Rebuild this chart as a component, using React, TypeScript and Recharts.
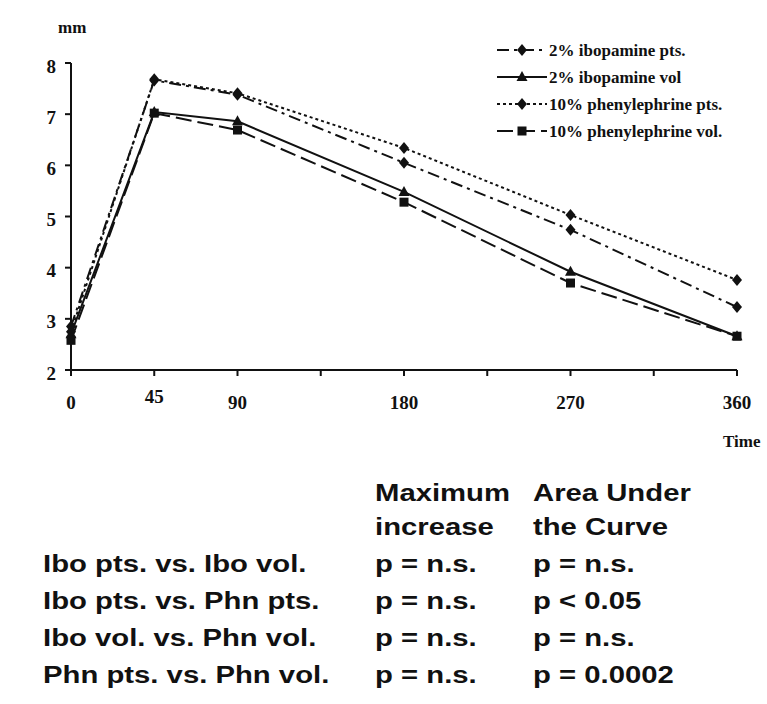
import { Line, LineChart, XAxis, YAxis } from "recharts";

const times = [0, 45, 90, 180, 270, 360];
const iboPts = [2.85, 7.66, 7.38, 6.05, 4.74, 3.23];
const iboVol = [2.7, 7.04, 6.86, 5.48, 3.92, 2.66];
const phnPts = [2.75, 7.68, 7.41, 6.34, 5.03, 3.76];
const phnVol = [2.58, 7.02, 6.69, 5.28, 3.7, 2.66];

const xTicks = [0, 45, 90, 135, 180, 225, 270, 315, 360];
const xLabels = [0, 45, 90, 180, 270, 360];
const yTicks = [2, 3, 4, 5, 6, 7, 8];

const comparisons = [
  "Ibo pts. vs. Ibo vol.",
  "Ibo pts. vs. Phn pts.",
  "Ibo vol. vs. Phn vol.",
  "Phn pts. vs. Phn vol.",
];
const maxIncrease = ["p = n.s.", "p = n.s.", "p = n.s.", "p = n.s."];
const areaUnder = ["p = n.s.", "p < 0.05", "p = n.s.", "p = 0.0002"];

type Shape = "diamond" | "triangle" | "square";

const series: { key: string; name: string; dash?: string; shape: Shape }[] = [
  { key: "iboPts", name: "2% ibopamine pts.", dash: "12 5 3 5", shape: "diamond" },
  { key: "iboVol", name: "2% ibopamine vol", shape: "triangle" },
  { key: "phnPts", name: "10% phenylephrine pts.", dash: "3 3", shape: "diamond" },
  { key: "phnVol", name: "10% phenylephrine vol.", dash: "16 6", shape: "square" },
];

const data = times.map((t, i) => ({
  t,
  iboPts: iboPts[i],
  iboVol: iboVol[i],
  phnPts: phnPts[i],
  phnVol: phnVol[i],
}));

const INK = "#111";
const SERIF = "'Liberation Serif', 'Times New Roman', serif";
const SANS = "'Liberation Sans', Arial, Helvetica, sans-serif";

function Marker({ shape, cx, cy }: { shape: Shape; cx: number; cy: number }) {
  if (shape === "square") {
    return <rect x={cx - 4.5} y={cy - 4.5} width={9} height={9} fill={INK} />;
  }
  if (shape === "triangle") {
    return (
      <path
        d={`M${cx},${cy - 6} L${cx + 5.5},${cy + 4} L${cx - 5.5},${cy + 4} Z`}
        fill={INK}
      />
    );
  }
  return (
    <path
      d={`M${cx},${cy - 6} L${cx + 5},${cy} L${cx},${cy + 6} L${cx - 5},${cy} Z`}
      fill={INK}
    />
  );
}

function XTick(props: any) {
  const { x, y, payload } = props;
  if (!xLabels.includes(payload.value)) return null;
  const lift = payload.value === 45 ? -6 : 0;
  return (
    <text
      x={x}
      y={y + lift}
      dy="0.71em"
      textAnchor="middle"
      fill={INK}
      fontFamily={SERIF}
      fontWeight="bold"
      fontSize={19}
    >
      {payload.value}
    </text>
  );
}

function YTick(props: any) {
  const { x, y, payload } = props;
  return (
    <text
      x={x}
      y={y + 3}
      dy="0.35em"
      textAnchor="end"
      fill={INK}
      fontFamily={SERIF}
      fontWeight="bold"
      fontSize={19}
    >
      {payload.value}
    </text>
  );
}

// legend drawn in the overlay so it does not shrink the plot area
function LegendBox() {
  return (
    <g transform="translate(495 38)">
      {series.map((s, i) => {
        const y = 12 + i * 27;
        return (
          <g key={s.key}>
            <line
              x1={2}
              x2={52}
              y1={y}
              y2={y}
              stroke={INK}
              strokeWidth={2}
              strokeDasharray={s.dash}
            />
            <Marker shape={s.shape} cx={27} cy={y} />
            <text
              x={54}
              y={y}
              dy="0.35em"
              fill={INK}
              fontFamily={SERIF}
              fontWeight="bold"
              fontSize={17}
            >
              {s.name}
            </text>
          </g>
        );
      })}
    </g>
  );
}

const SX = 1.22;

function Overlay() {
  const cols = [43, 375, 533];
  const rowBase = 572;
  const text = (x: number, y: number, s: string, k: string) => (
    <text
      key={k}
      x={x / SX}
      y={y}
      fill={INK}
      fontFamily={SANS}
      fontWeight="bold"
      fontSize={24}
    >
      {s}
    </text>
  );
  return (
    <svg
      width={767}
      height={704}
      style={{ position: "absolute", left: 0, top: 0, pointerEvents: "none" }}
    >
      <LegendBox />
      <g transform={`scale(${SX} 1)`}>
        {text(cols[1], 501, "Maximum", "h1")}
        {text(cols[1], 535, "increase", "h2")}
        {text(cols[2], 501, "Area Under", "h3")}
        {text(cols[2], 535, "the Curve", "h4")}
        {comparisons.map((c, i) => text(cols[0], rowBase + i * 37, c, `c${i}`))}
        {maxIncrease.map((c, i) => text(cols[1], rowBase + i * 37, c, `m${i}`))}
        {areaUnder.map((c, i) => text(cols[2], rowBase + i * 37, c, `a${i}`))}
      </g>
      <text x={58} y={33} fill={INK} fontFamily={SERIF} fontWeight="bold" fontSize={17}>
        mm
      </text>
      <text x={723} y={447} fill={INK} fontFamily={SERIF} fontWeight="bold" fontSize={17}>
        Time
      </text>
    </svg>
  );
}

export default function App() {
  return (
    <div
      style={{
        position: "absolute",
        left: 0,
        top: 0,
        width: 767,
        height: 704,
        background: "#fff",
      }}
    >
      <LineChart
        width={767}
        height={704}
        data={data}
        margin={{ top: 63, right: 30, bottom: 294, left: 11 }}
      >
        <XAxis
          dataKey="t"
          type="number"
          domain={[0, 360]}
          ticks={xTicks}
          interval={0}
          height={40}
          axisLine={{ stroke: INK, strokeWidth: 2 }}
          tickLine={{ stroke: INK, strokeWidth: 2 }}
          tickSize={6}
          tickMargin={20}
          tick={<XTick />}
        />
        <YAxis
          type="number"
          domain={[2, 8]}
          ticks={yTicks}
          interval={0}
          width={60}
          axisLine={{ stroke: INK, strokeWidth: 2 }}
          tickLine={{ stroke: INK, strokeWidth: 2 }}
          tickSize={6}
          tickMargin={9}
          tick={<YTick />}
        />
        {series.map((s) => (
          <Line
            key={s.key}
            dataKey={s.key}
            name={s.name}
            type="linear"
            stroke={INK}
            strokeWidth={2}
            strokeDasharray={s.dash}
            isAnimationActive={false}
            dot={(p: any) => (
              <Marker key={`${s.key}-${p.index}`} shape={s.shape} cx={p.cx} cy={p.cy} />
            )}
            activeDot={false}
          />
        ))}
      </LineChart>
      <Overlay />
    </div>
  );
}
